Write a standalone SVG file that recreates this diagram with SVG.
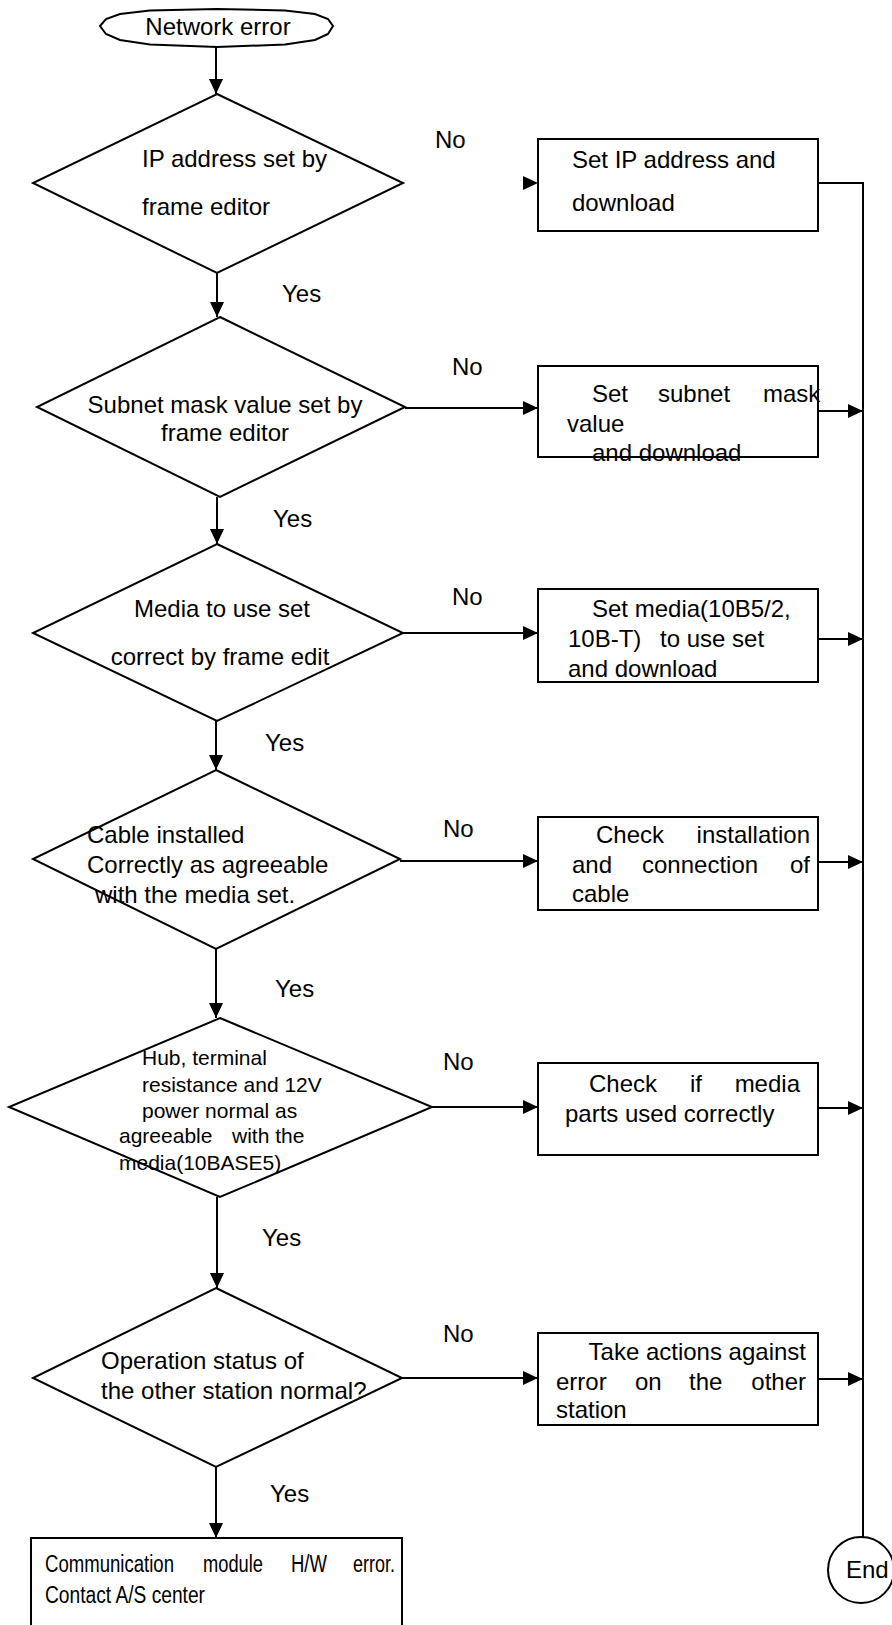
<svg xmlns="http://www.w3.org/2000/svg" width="892" height="1625" viewBox="0 0 892 1625">
<style>
.s{fill:#fff;stroke:#000;stroke-width:2}
.c{fill:none;stroke:#000;stroke-width:2}
text{font-family:"Liberation Sans",Arial,sans-serif;font-size:24px;fill:#000}
.m{font-size:21px}
.n{font-size:23px}
</style>
<defs>
<marker id="ah" markerUnits="userSpaceOnUse" markerWidth="16" markerHeight="14" refX="15" refY="7" orient="auto">
<path d="M0,0 L15,7 L0,14 z" fill="#000"/>
</marker>
</defs>
<g id="connectors">
<path class="c" d="M216,47 V94" marker-end="url(#ah)"/>
<path class="c" d="M217,273 V317" marker-end="url(#ah)"/>
<path class="c" d="M217,497 V544" marker-end="url(#ah)"/>
<path class="c" d="M216,720 V770" marker-end="url(#ah)"/>
<path class="c" d="M216,949 V1018" marker-end="url(#ah)"/>
<path class="c" d="M217,1197 V1288" marker-end="url(#ah)"/>
<path class="c" d="M216,1467 V1538" marker-end="url(#ah)"/>
<polygon points="523,176 538,183 523,190" fill="#000"/>
<path class="c" d="M405,408 H538" marker-end="url(#ah)"/>
<path class="c" d="M403,633 H538" marker-end="url(#ah)"/>
<path class="c" d="M400,861 H538" marker-end="url(#ah)"/>
<path class="c" d="M432,1107 H538" marker-end="url(#ah)"/>
<path class="c" d="M402,1378 H538" marker-end="url(#ah)"/>
<path class="c" d="M818,183 H863 V1537"/>
<path class="c" d="M815,411 H863" marker-end="url(#ah)"/>
<path class="c" d="M818,639 H863" marker-end="url(#ah)"/>
<path class="c" d="M818,862 H863" marker-end="url(#ah)"/>
<path class="c" d="M818,1108 H863" marker-end="url(#ah)"/>
<path class="c" d="M815,1379 H863" marker-end="url(#ah)"/>
<text x="435" y="148">No</text>
<text x="452" y="375">No</text>
<text x="452" y="605">No</text>
<text x="443" y="837">No</text>
<text x="443" y="1070">No</text>
<text x="443" y="1342">No</text>
<text x="282" y="302">Yes</text>
<text x="273" y="527">Yes</text>
<text x="265" y="751">Yes</text>
<text x="275" y="997">Yes</text>
<text x="262" y="1246">Yes</text>
<text x="270" y="1502">Yes</text>
</g>
<g id="start">
<polygon class="s" points="100,26 106,19 120,14 150,10.5 217,9 285,10.5 315,14 328,19 333,26 328,34 315,40 285,44.5 217,47 150,44.5 120,40 106,34"/>
<text x="218" y="35" text-anchor="middle">Network error</text>
</g>
<g id="d1">
<polygon class="s" points="217,94 403,183 217,273 33,183"/>
<text x="142" y="167">IP address set by</text>
<text x="142" y="215">frame editor</text>
</g>
<g id="b1">
<rect class="s" x="538" y="139" width="280" height="92"/>
<text x="572" y="168">Set IP address and</text>
<text x="572" y="211">download</text>
</g>
<g id="d2">
<polygon class="s" points="220,317 405,407 220,497 37,407"/>
<text x="225" y="413" text-anchor="middle">Subnet mask value set by</text>
<text x="225" y="441" text-anchor="middle">frame editor</text>
</g>
<g id="b2">
<rect class="s" x="538" y="366" width="280" height="91"/>
<text x="592" y="402">Set</text><text x="658" y="402">subnet</text><text x="763" y="402">mask</text>
<text x="567" y="432">value</text>
<text x="592" y="461">and download</text>
</g>
<g id="d3">
<polygon class="s" points="217,544 403,633 217,721 33,633"/>
<text x="222" y="617" text-anchor="middle">Media to use set</text>
<text x="220" y="665" text-anchor="middle">correct by frame edit</text>
</g>
<g id="b3">
<rect class="s" x="538" y="589" width="280" height="93"/>
<text x="592" y="617">Set media(10B5/2,</text>
<text x="568" y="647">10B-T)</text><text x="660" y="647">to use set</text>
<text x="568" y="677">and download</text>
</g>
<g id="d4">
<polygon class="s" points="216,770 400,859 216,949 33,859"/>
<text x="87" y="843">Cable installed</text>
<text x="87" y="873">Correctly as agreeable</text>
<text x="95" y="903">with the media set.</text>
</g>
<g id="b4">
<rect class="s" x="538" y="817" width="280" height="93"/>
<text x="596" y="843">Check</text><text x="810" y="843" text-anchor="end">installation</text>
<text x="572" y="873">and</text><text x="642" y="873">connection</text><text x="810" y="873" text-anchor="end">of</text>
<text x="572" y="902">cable</text>
</g>
<g id="d5">
<polygon class="s" points="220,1018 432,1107 220,1197 9,1107"/>
<text class="m" x="142" y="1065">Hub, terminal</text>
<text class="m" x="142" y="1092">resistance and 12V</text>
<text class="m" x="142" y="1118">power normal as</text>
<text class="m" x="119" y="1143">agreeable</text><text class="m" x="232" y="1143">with the</text>
<text class="m" x="119" y="1170">media(10BASE5)</text>
</g>
<g id="b5">
<rect class="s" x="538" y="1063" width="280" height="92"/>
<text x="589" y="1092">Check</text><text x="690" y="1092">if</text><text x="800" y="1092" text-anchor="end">media</text>
<text x="565" y="1122">parts used correctly</text>
</g>
<g id="d6">
<polygon class="s" points="216,1288 402,1378 216,1467 33,1378"/>
<text x="101" y="1369">Operation status of</text>
<text x="101" y="1399">the other station normal?</text>
</g>
<g id="b6">
<rect class="s" x="538" y="1333" width="280" height="92"/>
<text x="806" y="1360" text-anchor="end">Take actions against</text>
<text x="556" y="1390">error</text><text x="635" y="1390">on</text><text x="689" y="1390">the</text><text x="806" y="1390" text-anchor="end">other</text>
<text x="556" y="1418">station</text>
</g>
<g id="b7">
<rect class="s" x="31" y="1538" width="371" height="100"/>
<text class="n" x="45" y="1572" textLength="129" lengthAdjust="spacingAndGlyphs">Communication</text>
<text class="n" x="203" y="1572" textLength="60" lengthAdjust="spacingAndGlyphs">module</text>
<text class="n" x="291" y="1572" textLength="36" lengthAdjust="spacingAndGlyphs">H/W</text>
<text class="n" x="353" y="1572" textLength="42" lengthAdjust="spacingAndGlyphs">error.</text>
<text class="n" x="45" y="1603" textLength="160" lengthAdjust="spacingAndGlyphs">Contact A/S center</text>
</g>
<g id="end">
<circle class="s" cx="861" cy="1570" r="33"/>
<text x="846" y="1578">End</text>
</g>
</svg>
